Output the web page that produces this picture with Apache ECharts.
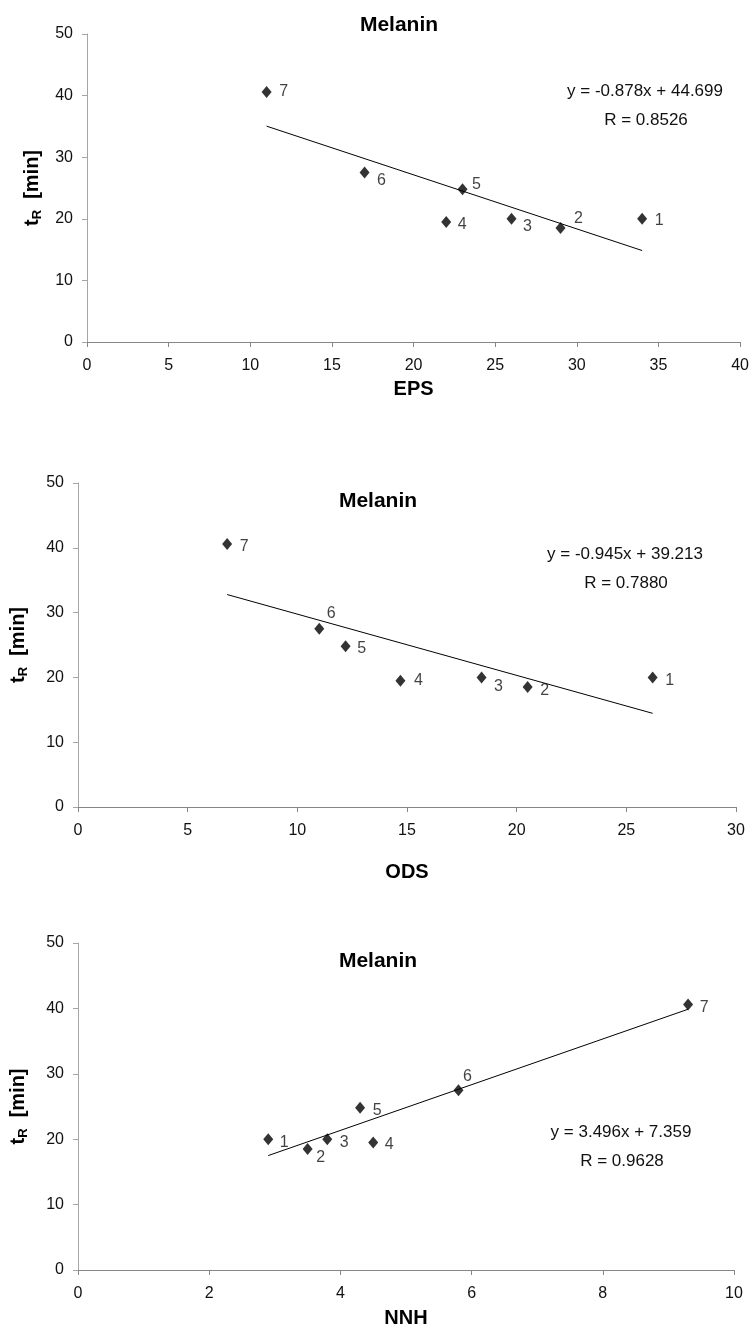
<!DOCTYPE html>
<html>
<head>
<meta charset="utf-8">
<script src="https://cdn.jsdelivr.net/npm/echarts@6/dist/echarts.min.js"></script>
<style>
  html, body { margin: 0; padding: 0; background: #fff; }
  #main { width: 752px; height: 1329px; }
</style>
</head>
<body>
<div id="main"></div>
<script type="text/javascript">
    // compounds 1..7 and their retention times
    var compounds = ['1', '2', '3', '4', '5', '6', '7'];
    var tR = [20, 18.5, 20, 19.5, 24.8, 27.5, 40.6];

    // descriptors on the x axes
    var eps = [34, 29, 26, 22, 23, 17, 11];
    var ods = [26.2, 20.5, 18.4, 14.7, 12.2, 11.0, 6.8];
    var nnh = [2.9, 3.5, 3.8, 4.5, 4.3, 5.8, 9.3];

    var xNames = ['EPS', 'ODS', 'NNH'];
    var xMax = [40, 30, 10];
    var xStep = [5, 5, 2];
    var yMax = 50;
    var yStep = 10;

    // linear fits printed on the charts
    var slopes = [-0.878, -0.945, 3.496];
    var intercepts = [44.699, 39.213, 7.359];
    var rValues = ['0.8526', '0.7880', '0.9628'];

    var xData = [eps, ods, nnh];

    // layout of the three panels (pixels)
    var grids = [
        {left: 87, right: 11, top: 34, height: 308},
        {left: 77, right: 16, top: 483, height: 324},
        {left: 77, right: 18, top: 943, height: 330}
    ];
    var titlePos = [[399, 25], [378, 501], [378, 961]];
    var eqPos = [[645, 91], [625, 554], [621, 1132]];
    var xNameGap = [37, 55, 38];
    var yNameGap = [37, 48, 48];
    // where each number sits next to its diamond
    var numberShift = [
        [[17, 2], [18, -9], [16, 8], [16, 3], [14, -5], [17, 8], [17, 0]],
        [[17, 3], [17, 3], [17, 9], [18, 0], [16, 2], [12, -15], [17, 3]],
        [[16, 3], [13, 9], [17, 3], [16, 2], [17, 3], [9, -14], [16, 3]]
    ];

    var fontFam = '"Liberation Sans", Arial, sans-serif';

    var myChart = echarts.init(document.getElementById('main'), null, {renderer: 'canvas'});

    var xAxes = [], yAxes = [], series = [], graphics = [];

    for (var i = 0; i < 3; i++) {
        xAxes.push({
            type: 'value', gridIndex: i, min: 0, max: xMax[i], interval: xStep[i],
            axisLine: {show: true, onZero: false, lineStyle: {color: '#868686', width: 1}},
            axisTick: {show: true, length: 5, lineStyle: {color: '#868686'}},
            splitLine: {show: false},
            axisLabel: {fontSize: 16, color: '#111', margin: 16, fontFamily: fontFam},
            name: xNames[i], nameLocation: 'middle', nameGap: xNameGap[i],
            nameTextStyle: {fontSize: 20, fontWeight: 'bold', color: '#000', fontFamily: fontFam}
        });
        yAxes.push({
            type: 'value', gridIndex: i, min: 0, max: yMax, interval: yStep,
            axisLine: {show: true, onZero: false, lineStyle: {color: '#a6a6a6', width: 1}},
            axisTick: {show: true, length: 5, lineStyle: {color: '#a6a6a6'}},
            splitLine: {show: false},
            axisLabel: {fontSize: 16, color: '#111', margin: 14, fontFamily: fontFam},
            name: '{b|t}{s|R}{b|  [min]}', nameLocation: 'middle', nameGap: yNameGap[i], nameRotate: 90,
            nameTextStyle: {
                rich: {
                    b: {fontSize: 20, fontWeight: 'bold', color: '#000', fontFamily: fontFam, lineHeight: 24},
                    s: {fontSize: 13, fontWeight: 'bold', color: '#000', fontFamily: fontFam, lineHeight: 24, verticalAlign: 'bottom', padding: [8, 0, 0, 0]}
                }
            }
        });

        var xs = xData[i];
        var pts = xs.map(function (x, k) {
            return {
                value: [x, tR[k]],
                name: compounds[k],
                label: {offset: numberShift[i][k]}
            };
        });
        series.push({
            type: 'scatter', xAxisIndex: i, yAxisIndex: i,
            symbol: 'diamond', symbolSize: [10, 12],
            itemStyle: {color: '#000'},
            label: {
                show: true, position: 'inside', formatter: '{b}',
                fontSize: 16, color: '#111', fontFamily: fontFam
            },
            data: pts, z: 3
        });

        // trend line between the smallest and largest x, from the printed fit
        var lo = Math.min.apply(null, xs), hi = Math.max.apply(null, xs);
        series.push({
            type: 'line', xAxisIndex: i, yAxisIndex: i, silent: true,
            showSymbol: false, symbol: 'none',
            lineStyle: {color: '#000', width: 1},
            data: [[lo, slopes[i] * lo + intercepts[i]], [hi, slopes[i] * hi + intercepts[i]]],
            z: 2
        });

        var sign = intercepts[i] < 0 ? ' - ' : ' + ';
        graphics.push({
            type: 'text', x: titlePos[i][0], y: titlePos[i][1],
            style: {text: 'Melanin', font: 'bold 21px ' + fontFam, fill: '#000', textAlign: 'center', textVerticalAlign: 'middle'}
        });
        graphics.push({
            type: 'text', x: eqPos[i][0], y: eqPos[i][1],
            style: {text: 'y = ' + slopes[i].toFixed(3) + 'x' + sign + Math.abs(intercepts[i]).toFixed(3),
                font: '17px ' + fontFam, fill: '#111', textAlign: 'center', textVerticalAlign: 'middle'}
        });
        graphics.push({
            type: 'text', x: eqPos[i][0] + 1, y: eqPos[i][1] + 29,
            style: {text: 'R = ' + rValues[i], font: '17px ' + fontFam, fill: '#111', textAlign: 'center', textVerticalAlign: 'middle'}
        });
    }

    var option = {
        animation: false,
        backgroundColor: '#fff',
        grid: grids,
        xAxis: xAxes,
        yAxis: yAxes,
        series: series,
        graphic: graphics
    };

    myChart.setOption(option);
</script>
</body>
</html>
